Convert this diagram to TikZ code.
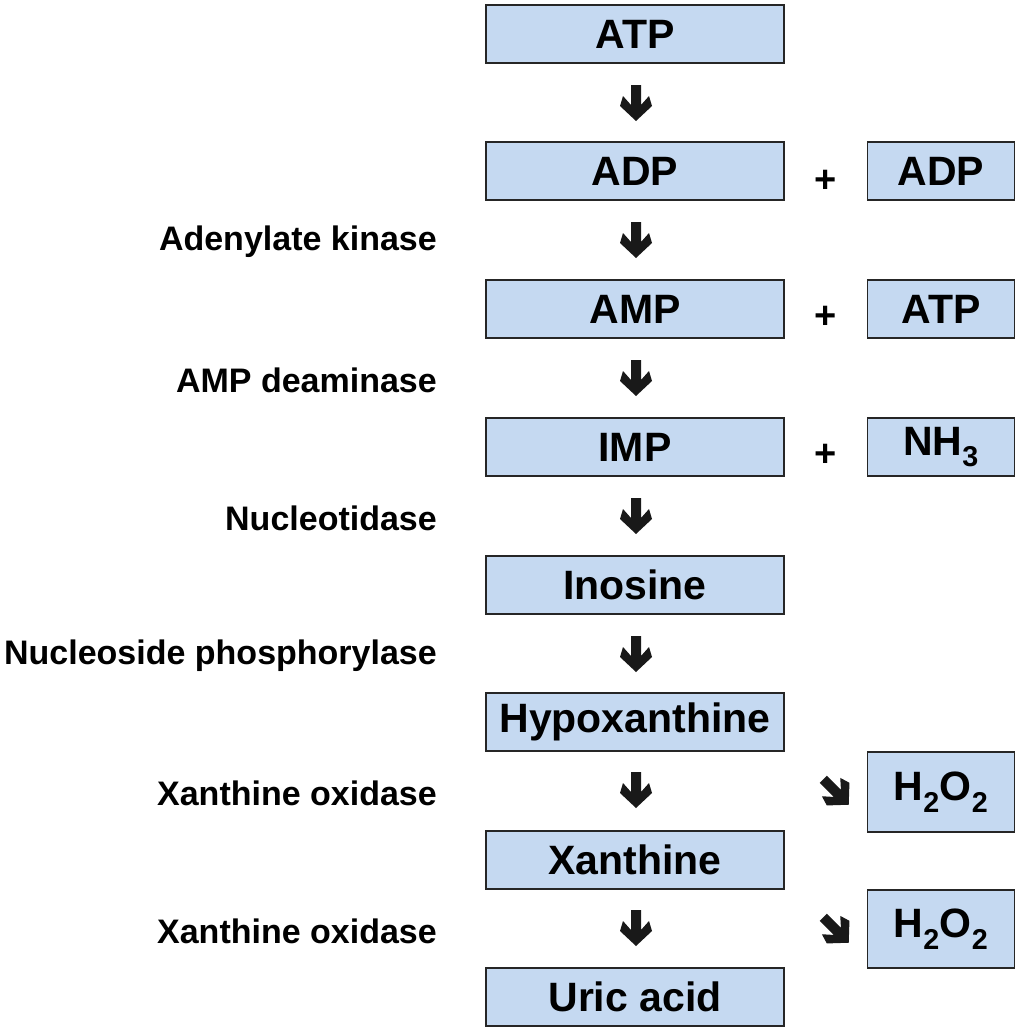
\documentclass[tikz,border=0pt]{standalone}
\usepackage{fontspec}
\setmainfont{Liberation Sans}
\begin{document}
\begin{tikzpicture}[x=1pt,y=-1pt,
 box/.style={draw=black!85,line width=1.5pt,fill={rgb,255:red,197;green,217;blue,241},inner sep=0pt,font=\fontsize{41}{44}\selectfont\bfseries},
 mb/.style={box,minimum width=298pt,minimum height=58pt},
 sb/.style={box,minimum width=147pt,minimum height=58pt},
 lab/.style={anchor=east,font=\fontsize{34}{36}\selectfont\bfseries,inner sep=0pt},
 plus/.style={font=\fontsize{38}{38}\selectfont\bfseries,inner sep=0pt},
 arr/.pic={\fill[black!90] (-5,-18)--(5,-18)--(5,2)--(13,-7)--(16,3)--(0,18)--(-16,3)--(-13,-7)--(-5,2)--cycle;}]
\useasboundingbox (0,0) rectangle (1024,1033);
\node[mb] (atp) at (635,34) {ATP};
\node[mb] (adp) at (635,171) {ADP};
\node[mb] (amp) at (635,309) {AMP};
\node[mb] (imp) at (635,447) {IMP};
\node[mb] (ino) at (635,585) {Inosine};
\node[mb] (hyp) at (635,722) {Hypoxanthine};
\node[mb] (xan) at (635,860) {Xanthine};
\node[mb] (uric) at (635,997) {Uric acid};
\node[sb] (adp2) at (941,171) {ADP};
\node[sb] (atp2) at (941,309) {ATP};
\node[sb] (nh3) at (941,447) {NH$_\mathbf{3}$};
\node[sb,minimum height=80pt] (h1) at (941,792) {H$_\mathbf{2}$O$_\mathbf{2}$};
\node[sb,minimum height=78pt] (h2) at (941,929) {H$_\mathbf{2}$O$_\mathbf{2}$};
\node[plus] (p1) at (826,181) {+};
\node[plus] (p2) at (826,317) {+};
\node[plus] (p3) at (826,455) {+};
\foreach \y in {103,240,378,516,654,790,928} \pic at (636,\y) {arr};
\pic[rotate=45] at (836,792) {arr};
\pic[rotate=45] at (836,930) {arr};
\node[lab] (l1) at (437,242) {Adenylate kinase};
\node[lab] (l2) at (437,380) {AMP deaminase};
\node[lab] (l3) at (437,518) {Nucleotidase};
\node[lab] (l4) at (437,656) {Nucleoside phosphorylase};
\node[lab] (l5) at (437,793) {Xanthine oxidase};
\node[lab] (l6) at (437,931) {Xanthine oxidase};
\end{tikzpicture}
\end{document}
